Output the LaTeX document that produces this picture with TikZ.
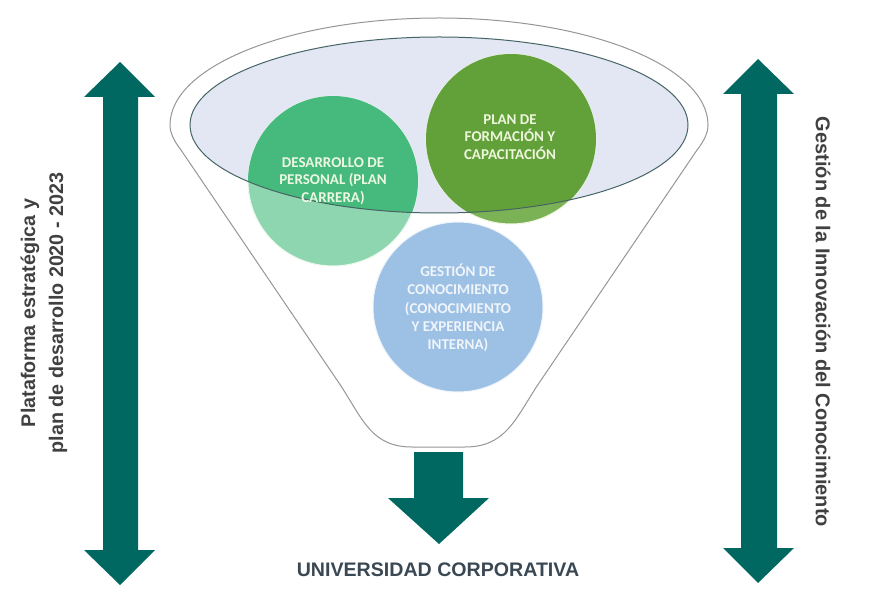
\documentclass[tikz,border=0pt]{standalone}
\usepackage{fontspec}
\setmainfont{Liberation Sans}
\newfontfamily\circlefont{Carlito}

\tikzset{every picture/.style={line width=0.75pt}}

\begin{document}
\begin{tikzpicture}[x=0.75pt,y=0.75pt,yscale=-1,xscale=1]
        \useasboundingbox (0,0) rectangle (880,616); %set diagram to 880 x 616

        %Shape: Funnel outline [id:funnel]
        \draw [color={rgb, 255:red, 150; green, 150; blue, 150 } ,draw opacity=1 ][fill={rgb, 255:red, 255; green, 255; blue, 255 } ,fill opacity=1 ] (181,150) .. controls (174,141) and (170,133) .. (170,125) .. controls (170,65.9) and (290.4,18) .. (439,18) .. controls (587.6,18) and (708,65.9) .. (708,125) .. controls (708,133) and (704,141) .. (697,150) -- (537,386) .. controls (515,420) and (505,447) .. (465,447) -- (412,447) .. controls (372,447) and (363,420) .. (341,386) -- cycle ;
        %Shape: Ellipse [id:rim]
        \draw [draw=none][fill={rgb, 255:red, 226; green, 231; blue, 243 } ,fill opacity=1 ] (190,125) .. controls (190,76.4) and (301.5,37) .. (439,37) .. controls (576.5,37) and (688,76.4) .. (688,125) .. controls (688,173.6) and (576.5,213) .. (439,213) .. controls (301.5,213) and (190,173.6) .. (190,125) -- cycle ;

        %Shape: Circle [id:desarrollo]
        \draw [color={rgb, 255:red, 235; green, 248; blue, 238 } ,draw opacity=1 ][fill={rgb, 255:red, 142; green, 214; blue, 176 } ,fill opacity=1 ] (248,181) .. controls (248,134.05) and (286.05,96) .. (333,96) .. controls (379.95,96) and (418,134.05) .. (418,181) .. controls (418,227.95) and (379.95,266) .. (333,266) .. controls (286.05,266) and (248,227.95) .. (248,181) -- cycle ;
        %Shape: Circle [id:plan]
        \draw [color={rgb, 255:red, 240; green, 246; blue, 225 } ,draw opacity=1 ][fill={rgb, 255:red, 124; green, 178; blue, 86 } ,fill opacity=1 ] (426,139) .. controls (426,92.05) and (464.05,54) .. (511,54) .. controls (557.95,54) and (596,92.05) .. (596,139) .. controls (596,185.95) and (557.95,224) .. (511,224) .. controls (464.05,224) and (426,185.95) .. (426,139) -- cycle ;
        %Shape: Circle [id:gestion]
        \draw [color={rgb, 255:red, 238; green, 244; blue, 250 } ,draw opacity=1 ][fill={rgb, 255:red, 157; green, 192; blue, 229 } ,fill opacity=1 ] (373,307) .. controls (373,260.05) and (411.05,222) .. (458,222) .. controls (504.95,222) and (543,260.05) .. (543,307) .. controls (543,353.95) and (504.95,392) .. (458,392) .. controls (411.05,392) and (373,353.95) .. (373,307) -- cycle ;

        %Shape: circles inside the rim
        \begin{scope}
        \clip (190,125) .. controls (190,76.4) and (301.5,37) .. (439,37) .. controls (576.5,37) and (688,76.4) .. (688,125) .. controls (688,173.6) and (576.5,213) .. (439,213) .. controls (301.5,213) and (190,173.6) .. (190,125) -- cycle ;
        \fill [fill={rgb, 255:red, 70; green, 185; blue, 124 } ] (248,181) .. controls (248,134.05) and (286.05,96) .. (333,96) .. controls (379.95,96) and (418,134.05) .. (418,181) .. controls (418,227.95) and (379.95,266) .. (333,266) .. controls (286.05,266) and (248,227.95) .. (248,181) -- cycle ;
        \fill [fill={rgb, 255:red, 98; green, 160; blue, 58 } ] (426,139) .. controls (426,92.05) and (464.05,54) .. (511,54) .. controls (557.95,54) and (596,92.05) .. (596,139) .. controls (596,185.95) and (557.95,224) .. (511,224) .. controls (464.05,224) and (426,185.95) .. (426,139) -- cycle ;
        \end{scope}

        %Shape: Ellipse outline [id:rimline]
        \draw [color={rgb, 255:red, 70; green, 100; blue, 100 } ,draw opacity=1 ] (190,125) .. controls (190,76.4) and (301.5,37) .. (439,37) .. controls (576.5,37) and (688,76.4) .. (688,125) .. controls (688,173.6) and (576.5,213) .. (439,213) .. controls (301.5,213) and (190,173.6) .. (190,125) -- cycle ;

        %Shape: Up Down Arrow [id:leftarrow]
        \draw [draw=none][fill={rgb, 255:red, 0; green, 104; blue, 96 } ,fill opacity=1 ] (120,62) -- (155,97) -- (138,97) -- (138,550) -- (155,550) -- (120,585) -- (84,550) -- (103,550) -- (103,97) -- (84,97) -- cycle ;
        %Shape: Up Down Arrow [id:rightarrow]
        \draw [draw=none][fill={rgb, 255:red, 0; green, 104; blue, 96 } ,fill opacity=1 ] (758,59) -- (794,94) -- (777,94) -- (777,548) -- (794,548) -- (758,583) -- (723,548) -- (741,548) -- (741,94) -- (723,94) -- cycle ;
        %Shape: Down Arrow [id:downarrow]
        \draw [draw=none][fill={rgb, 255:red, 0; green, 104; blue, 96 } ,fill opacity=1 ] (414,452) -- (463,452) -- (463,498) -- (489,498) -- (439,544) -- (388,498) -- (414,498) -- cycle ;

        % Text Node
        \draw (333,181) node (desarrollo) [inner sep=0.75pt] [color={rgb, 255:red, 236; green, 248; blue, 228 } ,opacity=1 ] [align=center,font=\circlefont\bfseries\fontsize{11.25}{13.2}\selectfont] {DESARROLLO DE\\PERSONAL (PLAN\\CARRERA)};
        % Text Node
        \draw (510,137) node (plan) [inner sep=0.75pt] [color={rgb, 255:red, 238; green, 246; blue, 220 } ,opacity=1 ] [align=center,font=\circlefont\bfseries\fontsize{11.25}{13.2}\selectfont] {PLAN DE\\FORMACIÓN Y\\CAPACITACIÓN};
        % Text Node
        \draw (458,308) node (gestion) [inner sep=0.75pt] [color={rgb, 255:red, 240; green, 245; blue, 250 } ,opacity=1 ] [align=center,font=\circlefont\bfseries\fontsize{11.25}{13.7}\selectfont] {GESTIÓN DE\\CONOCIMIENTO\\(CONOCIMIENTO\\Y EXPERIENCIA\\INTERNA)};
        % Text Node
        \draw (44,313) node (plataforma) [inner sep=0.75pt] [rotate=90] [color={rgb, 255:red, 64; green, 64; blue, 64 } ,opacity=1 ] [align=center,font=\bfseries\fontsize{14.8}{21}\selectfont] {Plataforma estratégica y\\plan de desarrollo 2020 - 2023};
        % Text Node
        \draw (823,322) node (innovacion) [inner sep=0.75pt] [rotate=-90] [color={rgb, 255:red, 64; green, 64; blue, 64 } ,opacity=1 ] [font=\bfseries\fontsize{15}{18}\selectfont] {Gestión de la Innovación del Conocimiento};
        % Text Node
        \draw (438,570) node (universidad) [inner sep=0.75pt] [color={rgb, 255:red, 58; green, 72; blue, 84 } ,opacity=1 ] [font=\bfseries\fontsize{14.7}{17}\selectfont] {UNIVERSIDAD CORPORATIVA};

\end{tikzpicture}
\end{document}
